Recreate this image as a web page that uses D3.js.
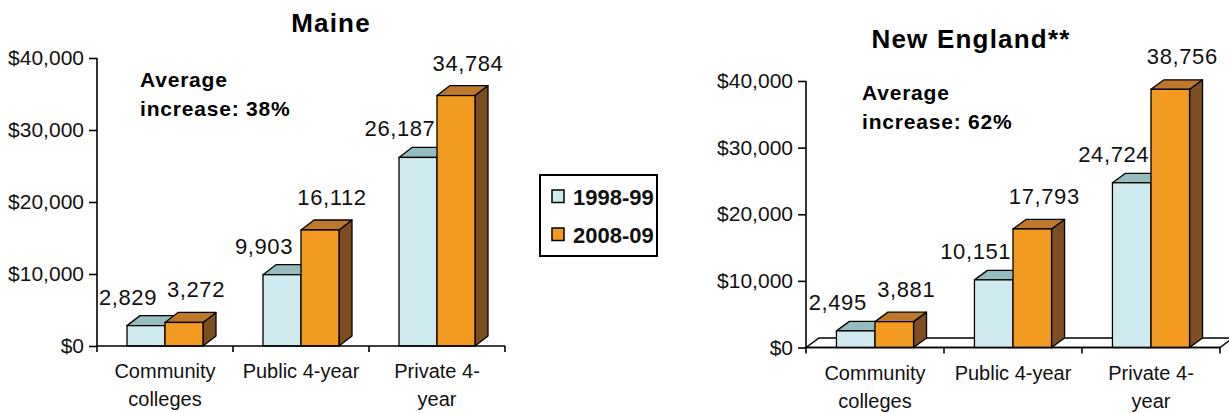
<!DOCTYPE html>
<html>
<head>
<meta charset="utf-8">
<script src="https://cdn.jsdelivr.net/npm/d3@7"></script>
<style>
  html, body { margin: 0; padding: 0; background: #fff; }
  svg { display: block; font-family: "Liberation Sans", Arial, sans-serif; }
</style>
</head>
<body>
<svg id="chart" width="1229" height="413"></svg>
<script>
// Average tuition and fees by sector, 1998-99 vs 2008-09
const categoryLines = [["Community", "colleges"], ["Public 4-year"], ["Private 4-", "year"]];
const seriesNames = ["1998-99", "2008-09"];
const maine1998 = [2829, 9903, 26187];
const maine2008 = [3272, 16112, 34784];
const newEngland1998 = [2495, 10151, 24724];
const newEngland2008 = [3881, 17793, 38756];
const yTickValues = [0, 10000, 20000, 30000, 40000];
const panelTitles = ["Maine", "New England**"];
const increaseNotes = [["Average", "increase: 38%"], ["Average", "increase: 62%"]];

const colors = {
  light: { front: "#CFEBEF", top: "#93BDBE", side: "#6E9496" },
  orange: { front: "#F39A21", top: "#BE782C", side: "#7D4E20" }
};

const svg = d3.select("#chart");
const fmtTick = v => "$" + d3.format(",")(v);
const fmtVal = d3.format(",");

function drawPanel(cfg) {
  const g = svg.append("g");
  const x = d3.scaleBand().domain(d3.range(categoryLines.length)).range([cfg.x0, cfg.x1]).padding(0);
  const inner = d3.scaleBand().domain(seriesNames).range([0, x.bandwidth()]).paddingInner(0).paddingOuter(0.79);
  const y = d3.scaleLinear().domain([0, 40000]).range([cfg.yBottom, cfg.yTop]);
  const dx = cfg.depth[0], dy = cfg.depth[1];

  // floor plane
  if (cfg.floor) {
    g.append("path")
      .attr("d", `M${cfg.x0},${y(0)} L${cfg.x0 + dx},${y(0) + dy} L${cfg.x1 + dx},${y(0) + dy} L${cfg.x1},${y(0)} Z`)
      .attr("fill", "#fff").attr("stroke", "#000").attr("stroke-width", 1.5);
  }

  // y axis
  const yAxis = d3.axisLeft(y).tickValues(yTickValues).tickFormat(fmtTick).tickSize(8).tickPadding(5);
  const ya = g.append("g").attr("transform", `translate(${cfg.x0},0)`).call(yAxis);
  ya.select(".domain").attr("d", `M0,${cfg.yTop}V${cfg.yBottom}`).attr("stroke", "#000").attr("stroke-width", 1.6);
  ya.selectAll(".tick line").attr("stroke", "#000").attr("stroke-width", 1.6);
  ya.selectAll(".tick text").attr("font-size", 21).attr("fill", "#111").attr("font-family", "Liberation Sans, Arial, sans-serif");

  // bars, drawn 1998-99 first so the 2008-09 bar covers its side face
  const seriesData = [cfg.a, cfg.b];
  const palettes = [colors.light, colors.orange];
  seriesNames.forEach((s, si) => {
    seriesData[si].forEach((v, ci) => {
      const bx = x(ci) + inner(s);
      const bw = inner.bandwidth();
      const top = y(v), base = y(0);
      const p = palettes[si];
      const bar = g.append("g");
      bar.append("path")
        .attr("d", `M${bx + bw},${top} L${bx + bw + dx},${top + dy} L${bx + bw + dx},${base + dy} L${bx + bw},${base} Z`)
        .attr("fill", p.side).attr("stroke", "#000").attr("stroke-width", 1.3).attr("stroke-linejoin", "round");
      bar.append("path")
        .attr("d", `M${bx},${top} L${bx + dx},${top + dy} L${bx + bw + dx},${top + dy} L${bx + bw},${top} Z`)
        .attr("fill", p.top).attr("stroke", "#000").attr("stroke-width", 1.3).attr("stroke-linejoin", "round");
      bar.append("rect")
        .attr("x", bx).attr("y", top).attr("width", bw).attr("height", base - top)
        .attr("fill", p.front).attr("stroke", "#000").attr("stroke-width", 1.3);
    });
  });

  // x axis
  g.append("line").attr("x1", cfg.x0).attr("x2", cfg.x1).attr("y1", y(0)).attr("y2", y(0))
    .attr("stroke", "#000").attr("stroke-width", 1.6);
  const edges = d3.range(categoryLines.length + 1).map(i => i < categoryLines.length ? x(i) : cfg.x1);
  g.selectAll(".xtick").data(edges).join("line")
    .attr("x1", d => d).attr("x2", d => d).attr("y1", y(0)).attr("y2", y(0) + 6)
    .attr("stroke", "#000").attr("stroke-width", 1.6);

  // category labels
  categoryLines.forEach((lines, ci) => {
    const t = g.append("text").attr("text-anchor", "middle").attr("font-size", 20).attr("fill", "#111");
    lines.forEach((ln, li) => {
      t.append("tspan").attr("x", x(ci) + x.bandwidth() / 2).attr("y", cfg.catY + li * 28).text(ln);
    });
  });

  // value labels
  seriesNames.forEach((s, si) => {
    seriesData[si].forEach((v, ci) => {
      const cx = x(ci) + inner(s) + inner.bandwidth() / 2;
      g.append("text")
        .attr("x", cx + (si === 0 ? -18 : 12))
        .attr("y", y(v) - (si === 0 ? 21 : 25))
        .attr("text-anchor", "middle").attr("font-size", 22).attr("letter-spacing", 0.6)
        .attr("fill", "#111").text(fmtVal(v));
    });
  });

  // title
  g.append("text").attr("x", cfg.titleX).attr("y", cfg.titleY).attr("text-anchor", "middle")
    .attr("font-size", 26).attr("font-weight", "bold").attr("letter-spacing", 1.2).text(cfg.title);

  // average increase note
  const note = g.append("text").attr("font-size", 21).attr("font-weight", "bold").attr("letter-spacing", 0.8);
  cfg.note.forEach((ln, li) => {
    note.append("tspan").attr("x", cfg.noteX).attr("y", cfg.noteY + li * 28.5).text(ln);
  });
}

drawPanel({
  x0: 97, x1: 505, yTop: 58, yBottom: 346, depth: [13, -10], floor: false,
  a: maine1998, b: maine2008, title: panelTitles[0], titleX: 331, titleY: 32,
  note: increaseNotes[0], noteX: 140, noteY: 87, catY: 378
});
drawPanel({
  x0: 806, x1: 1220, yTop: 81, yBottom: 347.5, depth: [13, -9.5], floor: true,
  a: newEngland1998, b: newEngland2008, title: panelTitles[1], titleX: 971, titleY: 48,
  note: increaseNotes[1], noteX: 862, noteY: 100, catY: 380
});

// legend
const legend = svg.append("g");
legend.append("rect").attr("x", 540).attr("y", 175).attr("width", 117).attr("height", 81)
  .attr("fill", "#fff").attr("stroke", "#000").attr("stroke-width", 2);
const legendColors = [colors.light.front, colors.orange.front];
seriesNames.forEach((s, i) => {
  const yy = 190 + i * 38;
  legend.append("rect").attr("x", 552).attr("y", yy).attr("width", 12).attr("height", 12.5)
    .attr("fill", legendColors[i]).attr("stroke", "#000").attr("stroke-width", 1.5);
  legend.append("text").attr("x", 573).attr("y", yy + 15).attr("font-size", 22).attr("font-weight", "bold")
    .attr("fill", "#111").text(s);
});
</script>
</body>
</html>
